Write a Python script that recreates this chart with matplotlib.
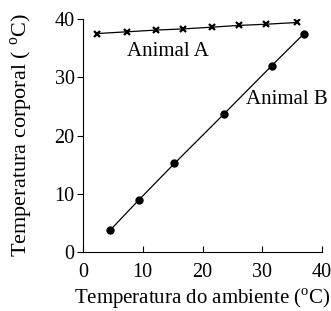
import numpy as np
import matplotlib.pyplot as plt

plt.rcParams['font.family'] = ['Liberation Serif', 'DejaVu Serif']
plt.rcParams['mathtext.fontset'] = 'custom'
plt.rcParams['mathtext.rm'] = 'Liberation Serif'

# Animal A: temperatura corporal quase constante
amb_a = [2.3, 7.3, 12.2, 16.8, 21.6, 26.1, 30.6, 35.8]
corp_a = [37.5, 37.8, 38.1, 38.3, 38.6, 38.9, 39.1, 39.4]

# Animal B: acompanha o ambiente
amb_b = [4.5, 9.4, 15.3, 23.6, 31.6, 37.0]
corp_b = [3.7, 9.0, 15.2, 23.7, 32.0, 37.5]

xticks = [0, 10, 20, 30, 40]
yticks = [0, 10, 20, 30, 40]

fig = plt.figure(figsize=(3.31, 3.11), dpi=100)
ax = fig.add_axes([0.2508, 0.1897, 0.722, 0.7492])

ax.plot(amb_a, corp_a, color='black', lw=0.9, marker='x', ms=4, mew=1.6)
ax.plot(amb_b, corp_b, color='black', lw=0.9, marker='o', ms=5)

ax.set_xlim(0, 40)
ax.set_ylim(0, 40)
ax.set_xticks(xticks)
ax.set_yticks(yticks)
ax.spines['top'].set_visible(False)
ax.spines['right'].set_visible(False)
ax.tick_params(axis='x', direction='in', length=4, labelsize=14.5, pad=8)
ax.tick_params(axis='y', direction='out', length=4, labelsize=14.5, pad=2)

ax.text(14.2, 34.5, 'Animal A', fontsize=15, ha='center', va='center')
ax.text(34.2, 26.1, 'Animal B', fontsize=15, ha='center', va='center')

ax.set_xlabel('Temperatura do ambiente ($^{\\mathrm{o}}$C)', fontsize=15, labelpad=3)
ax.set_ylabel('Temperatura corporal ( $^{\\mathrm{o}}$C)', fontsize=16, labelpad=14)

fig.savefig('out.png', dpi=100)
